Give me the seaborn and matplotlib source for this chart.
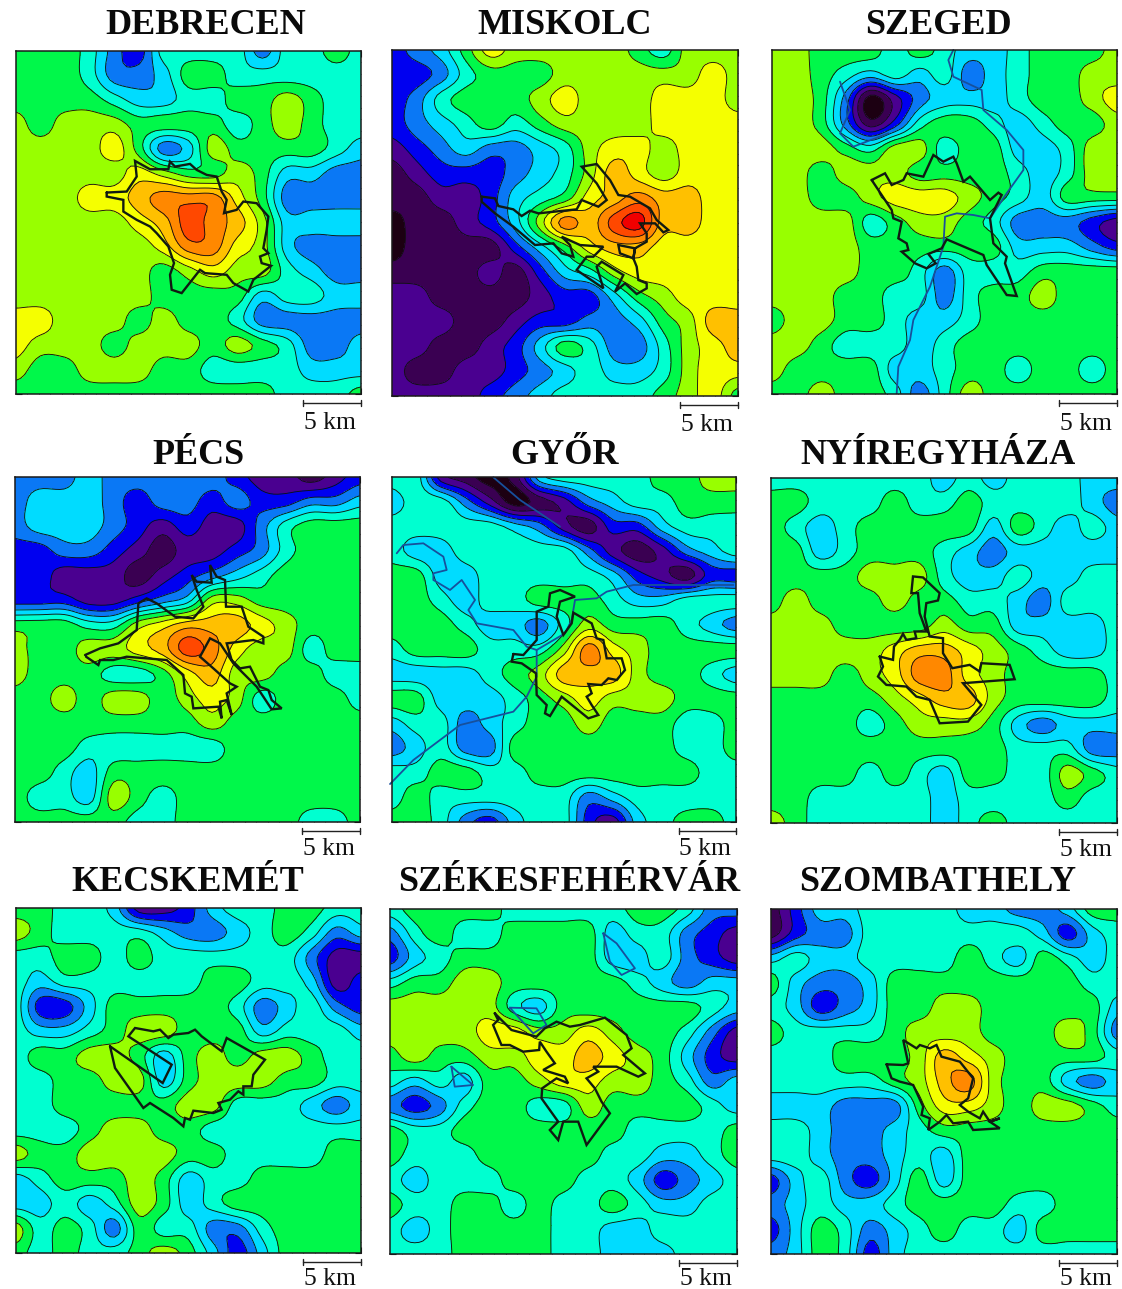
import numpy as np
import matplotlib
matplotlib.use("Agg")
import matplotlib.pyplot as plt
from matplotlib.ticker import MultipleLocator
import seaborn as sns

CITIES = ["DEBRECEN", "MISKOLC", "SZEGED", "PÉCS", "GYŐR", "NYÍREGYHÁZA",
          "KECSKEMÉT", "SZÉKESFEHÉRVÁR", "SZOMBATHELY"]
BAND_COLORS = ["#1c0012", "#3a0052", "#4a0090", "#0000f0", "#0a78f5", "#00dcff", "#00ffd0",
               "#00f84a", "#98ff00", "#f5ff00", "#ffc000", "#ff8800", "#ff4800", "#f00000"]

DEBRECEN = [
 [7,7,7,6,4,3,6,6,6,6,4,6,6,7,6],
 [7,7,7,6,4,4,5,7,7,6,6,6,6,6,6],
 [7,7,7,7,6,5,5,6,6,7,7,8,7,6,6],
 [8,7,8,8,8,7,7,7,7,6,7,8,7,6,6],
 [8,8,8,8,9,7,4,5,8,7,7,7,7,6,5],
 [8,8,8,8,8,9,8,7,7,8,7,5,5,4,4],
 [8,8,8,9,9,10,11,11,11,9,7,4,4,4,4],
 [8,8,8,8,8,9,10,12,11,10,8,5,5,5,5],
 [8,8,8,8,8,8,9,11,11,9,8,5,4,4,4],
 [8,8,8,8,8,8,7,8,9,8,8,6,5,4,4],
 [8,8,8,8,8,8,7,7,7,7,5,6,6,5,5],
 [9,9,8,8,8,7,8,7,7,6,4,4,4,4,4],
 [9,8,8,8,7,8,8,8,7,8,7,6,4,4,5],
 [8,7,7,8,8,8,7,7,6,6,6,6,5,5,5],
 [7,7,7,7,7,7,7,7,7,7,7,6,6,6,7],
]
MISKOLC = [
 [3,4,5,7,9,8,8,8,8,8,7,6,8,8,8],
 [3,3,4,6,7,7,7,8,8,8,8,8,8,9,8],
 [3,4,6,7,7,7,8,9,8,8,8,9,9,9,8],
 [3,4,5,6,7,6,7,8,8,8,8,9,9,9,9],
 [2,3,4,5,4,4,5,6,8,9,9,8,9,9,9],
 [1,2,3,3,3,4,5,6,8,10,9,8,9,9,9],
 [1,1,2,2,3,5,6,7,9,10,11,10,10,9,9],
 [0,1,1,2,3,5,8,11,10,12,13,10,10,9,9],
 [0,1,1,1,1,3,5,7,9,10,10,9,9,9,9],
 [1,1,1,1,2,1,3,5,6,8,9,9,9,9,9],
 [2,2,1,1,1,1,2,3,3,5,7,8,9,9,9],
 [2,2,2,1,1,2,3,3,4,4,5,7,8,10,10],
 [2,2,1,1,2,3,5,7,6,4,4,6,8,9,10],
 [2,1,1,2,2,3,4,5,6,5,5,6,8,9,9],
 [2,2,2,2,3,4,5,6,6,6,6,7,8,9,7],
]
SZEGED = [
 [8,8,7,7,7,6,7,6,5,5,6,7,7,7,8],
 [8,8,7,6,5,6,5,6,4,5,6,7,7,8,8],
 [8,8,7,4,0,2,4,5,5,5,6,7,7,8,9],
 [8,8,7,4,1,3,6,7,7,6,5,6,7,7,8],
 [8,8,8,7,6,8,8,6,7,7,5,5,6,8,8],
 [8,8,7,8,8,8,7,7,7,7,6,5,6,8,8],
 [8,8,7,7,8,9,9,9,8,7,6,5,7,7,7],
 [8,8,8,8,6,7,8,8,7,6,4,4,4,3,2],
 [8,8,8,8,7,7,7,7,7,7,5,5,5,4,3],
 [8,8,8,8,7,7,6,4,6,6,6,7,7,7,7],
 [8,8,8,7,7,6,6,4,6,7,7,8,7,7,7],
 [7,8,8,7,7,6,5,5,6,7,7,7,7,7,7],
 [8,8,7,6,6,6,5,6,7,7,7,7,7,7,7],
 [8,7,7,7,7,5,5,6,7,7,6,7,7,6,7],
 [7,7,8,7,7,6,4,6,8,7,7,7,7,7,7],
]
PECS = [
 [4,4,4,5,4,4,4,4,4,3,2,2,1,2,3],
 [4,5,5,5,4,3,4,4,3,4,3,3,4,4,5],
 [4,5,5,5,4,3,2,3,2,2,4,6,7,7,7],
 [3,3,4,4,3,2,1,2,2,3,4,6,7,7,7],
 [3,3,2,2,2,1,2,3,4,5,6,7,7,7,7],
 [3,3,3,2,2,3,4,5,8,8,7,7,7,7,7],
 [7,7,7,6,6,8,9,10,10,10,9,8,7,7,7],
 [8,7,7,8,8,9,10,12,11,9,8,8,6,7,7],
 [8,7,7,7,6,6,7,9,10,8,8,7,7,6,6],
 [7,7,8,7,8,8,7,8,9,8,6,7,7,7,6],
 [7,7,7,7,7,7,7,7,8,7,7,7,7,7,7],
 [7,7,7,6,6,6,6,6,6,7,7,7,7,7,7],
 [7,7,6,5,7,7,7,7,7,7,7,7,7,7,7],
 [7,6,6,5,8,7,6,7,7,7,7,7,7,7,7],
 [7,7,7,7,7,6,6,7,7,7,7,7,6,6,7],
]
GYOR = [
 [6,6,2,1,0,1,5,6,6,6,6,7,7,8,8],
 [5,6,6,4,2,0,1,2,4,5,6,6,7,7,7],
 [6,6,6,6,6,5,4,2,1,3,3,5,6,6,6],
 [6,5,5,6,6,6,6,6,4,2,1,2,4,5,6],
 [7,7,5,5,6,6,6,6,6,5,3,2,1,3,3],
 [7,7,6,5,6,6,7,7,7,6,5,5,6,6,6],
 [7,7,7,6,5,5,4,6,8,7,7,7,6,5,4],
 [6,7,7,7,6,6,6,8,11,9,8,7,7,7,7],
 [5,5,5,5,6,7,8,10,10,10,8,7,7,6,5],
 [7,7,5,5,5,6,7,8,9,8,8,8,7,7,7],
 [5,6,6,4,5,6,7,7,8,7,7,7,6,6,7],
 [4,5,6,4,4,7,7,7,7,7,7,7,6,6,7],
 [6,6,7,7,6,6,7,7,7,7,7,7,7,6,6],
 [6,7,6,6,6,6,6,6,4,5,6,6,6,6,6],
 [7,7,6,4,3,5,6,6,3,2,5,6,7,7,6],
]
NYIREGYHAZA = [
 [6,6,6,6,6,6,6,5,6,5,6,6,6,5,5],
 [7,7,6,6,6,7,6,6,7,6,6,6,6,5,4],
 [7,6,5,6,7,7,7,7,7,5,7,6,5,6,5],
 [7,7,5,6,7,7,7,6,5,4,5,5,5,5,5],
 [7,7,7,7,8,8,8,6,5,5,6,5,5,6,6],
 [7,8,7,7,7,8,7,7,6,6,5,4,6,6,6],
 [8,8,8,7,7,7,7,8,7,7,5,5,5,5,6],
 [8,8,8,8,8,9,10,10,9,8,7,6,5,5,6],
 [8,8,8,7,8,9,11,11,9,8,7,7,7,7,6],
 [7,7,7,7,7,8,9,10,10,8,7,7,7,7,6],
 [7,7,7,7,6,7,8,8,8,7,5,4,5,5,5],
 [7,7,7,7,7,7,7,7,7,7,6,6,6,4,4],
 [7,7,7,7,6,7,6,5,7,7,6,6,8,7,6],
 [7,7,6,6,6,6,6,5,6,6,6,6,7,6,6],
 [8,7,6,6,6,6,6,5,6,7,6,6,6,6,6],
]
KECSKEMET = [
 [7,7,6,6,5,2,2,3,5,6,6,7,7,6,6],
 [8,7,6,6,6,6,5,4,4,5,6,7,6,4,5],
 [6,6,7,7,6,7,6,6,6,6,6,6,4,2,2],
 [6,5,6,6,6,6,6,6,7,7,6,6,5,2,3],
 [6,3,3,5,7,7,7,7,7,6,4,5,6,4,3],
 [6,5,5,6,7,8,8,7,7,7,5,6,6,6,5],
 [6,7,7,8,8,7,5,7,8,7,8,8,7,6,6],
 [6,6,7,7,8,8,5,7,8,8,8,7,7,6,6],
 [6,6,7,7,7,7,7,8,8,6,6,6,5,4,5],
 [6,6,6,7,8,8,7,7,6,6,6,6,6,6,6],
 [8,7,7,8,8,8,8,7,7,6,6,6,6,7,7],
 [5,6,7,7,7,8,7,5,6,6,7,7,7,7,7],
 [5,5,6,5,6,8,7,5,6,7,7,7,7,7,7],
 [8,6,7,6,4,7,6,6,4,4,6,7,7,7,7],
 [7,6,7,6,6,7,8,7,5,3,5,7,7,7,7],
]
SZEKESFEHERVAR = [
 [6,7,7,7,7,6,6,6,6,6,7,7,6,4,4],
 [4,6,7,6,6,7,7,7,7,5,6,6,4,3,2],
 [3,5,6,7,7,7,7,7,7,5,5,6,4,3,2],
 [6,7,7,8,8,7,7,7,7,7,6,5,4,5,5],
 [8,8,8,8,8,6,5,7,7,7,7,7,7,6,5],
 [8,8,8,8,9,9,8,8,9,8,7,7,6,4,2],
 [7,8,7,7,8,8,9,9,10,9,8,7,5,3,2],
 [6,5,6,5,7,7,8,9,9,8,8,7,6,4,5],
 [4,3,4,6,7,7,6,6,8,7,7,7,7,6,5],
 [7,6,6,7,7,7,7,7,7,7,6,6,6,6,7],
 [7,6,6,6,7,7,7,7,7,6,6,5,5,6,7],
 [6,5,6,6,6,7,7,7,6,6,5,3,4,5,6],
 [7,6,6,7,7,6,7,6,6,7,6,5,5,6,6],
 [6,5,6,7,7,7,7,6,6,5,5,6,6,6,6],
 [6,6,6,7,7,7,7,6,6,5,5,5,6,6,6],
]
SZOMBATHELY = [
 [1,3,5,5,6,6,6,6,5,5,4,4,5,7,7],
 [1,3,4,4,6,6,6,6,6,6,6,5,3,5,6],
 [5,6,5,5,6,6,6,6,7,6,5,7,6,5,6],
 [7,5,4,4,5,7,7,7,7,7,7,7,7,6,6],
 [6,5,3,4,5,7,7,8,8,7,7,7,7,7,5],
 [7,6,6,6,6,7,8,8,8,7,7,7,8,7,4],
 [6,6,6,7,7,7,8,10,9,8,7,7,7,7,6],
 [6,6,6,6,6,7,8,10,11,8,7,7,5,4,5],
 [5,5,5,4,4,4,7,9,9,8,7,8,8,7,6],
 [6,6,5,4,4,5,6,7,7,7,7,7,7,7,7],
 [6,6,5,4,4,5,6,5,7,7,7,7,7,7,7],
 [3,5,6,4,3,5,7,5,7,7,7,7,7,7,7],
 [4,5,6,5,5,6,7,7,7,7,6,6,7,7,7],
 [3,5,7,6,4,5,6,7,6,6,5,7,7,7,7],
 [4,5,7,6,3,5,6,6,6,6,6,6,6,6,6],
]
GRIDS = [DEBRECEN, MISKOLC, SZEGED, PECS, GYOR, NYIREGYHAZA, KECSKEMET, SZEKESFEHERVAR, SZOMBATHELY]

# City limits and rivers, as read on the picture (in thirds of a pixel from each map's own crop)
B_DEBRECEN = [(320,578),(380,575),(410,530),(405,483),(450,508),(505,508),(510,485),(525,500),(570,492),(590,510),(620,525),(650,530),(665,575),(680,600),(672,640),(710,630),(730,605),(770,610),(805,650),(800,690),(790,745),(805,760),(780,770),(785,790),(813,798),(760,840),(745,875),(700,850),(680,825),(615,820),(600,810),(545,880),(515,870),(510,825),(522,790),(505,740),(470,700),(450,680),(410,660),(370,635),(370,600),(320,590),(320,578)]
B_MISKOLC = [(305,590),(345,595),(355,618),(400,628),(425,648),(450,632),(475,640),(590,628),(605,600),(655,620),(680,600),(650,550),(605,500),(650,492),(690,540),(715,585),(750,590),(810,625),(830,660),(865,690),(850,697),(825,670),(780,670),(800,700),(800,725),(765,745),(760,775),(720,760),(715,735),(765,745),(760,775),(770,800),(775,840),(800,850),(800,865),(770,882),(735,850),(705,875),(730,825),(665,785),(650,800),(670,865),(590,810),(620,770),(640,770),(670,740),(600,735),(545,710),(570,735),(580,770),(545,760),(520,730),(465,735),(400,680),(345,640),(305,605),(305,590)]
B_SZEGED = [(335,540),(375,520),(395,555),(430,540),(440,520),(490,530),(520,465),(550,485),(580,470),(590,490),(610,545),(630,530),(690,600),(715,578),(725,585),(690,655),(700,730),(740,770),(735,790),(770,888),(740,885),(680,795),(670,765),(560,718),(545,745),(505,762),(527,790),(500,805),(465,790),(425,755),(445,750),(440,730),(415,715),(425,665),(400,655),(395,630),(335,540)]
B_PECS = [(255,675),(300,655),(355,640),(410,600),(415,520),(440,505),(470,520),(525,560),(580,565),(610,530),(590,480),(575,435),(590,455),(635,458),(630,405),(650,440),(675,450),(678,530),(725,530),(745,590),(790,620),(790,640),(760,630),(680,640),(695,690),(720,715),(750,710),(780,770),(805,780),(815,810),(845,835),(815,838),(790,800),(770,770),(700,700),(660,640),(630,625),(600,680),(640,715),(690,760),(710,770),(680,790),(695,855),(680,810),(660,815),(665,865),(655,830),(580,835),(575,800),(555,790),(550,735),(500,690),(380,680),(340,690),(300,690),(295,705),(258,680)]
B_GYOR = [(400,672),(430,675),(470,630),(470,545),(505,530),(510,490),(540,480),(585,500),(540,515),(530,560),(550,615),(575,580),(580,548),(635,580),(650,625),(670,630),(680,685),(725,685),(735,720),(710,750),(685,745),(665,765),(625,762),(635,790),(620,800),(635,825),(655,855),(625,865),(545,800),(510,858),(495,850),(500,825),(470,795),(468,730),(425,700),(395,695),(400,672)]
B_NYIREGYHAZA = [(360,680),(400,690),(403,650),(420,630),(430,612),(440,630),(470,625),(465,605),(500,605),(480,550),(475,490),(455,490),(460,440),(490,443),(540,490),(535,512),(500,520),(495,560),(510,620),(550,625),(550,670),(578,715),(630,705),(660,725),(665,700),(750,705),(765,748),(610,760),(665,825),(625,875),(540,880),(510,810),(470,800),(440,770),(380,765),(355,740),(370,710),(360,680)]
B_KECSKEMET = [(330,575),(345,640),(430,760),(450,745),(520,790),(550,815),(555,790),(570,795),(580,768),(640,775),(665,765),(655,745),(690,735),(715,710),(730,720),(730,695),(755,695),(760,660),(795,615),(680,550),(665,590),(605,545),(585,525),(565,535),(520,540),(505,550),(480,525),(460,530),(405,520),(385,545),(515,630),(488,685),(330,575)]
B_SZEKESFEHERVAR = [(345,475),(365,495),(395,525),(470,545),(495,520),(530,500),(570,515),(600,510),(675,488),(740,540),(755,580),(730,600),(795,655),(775,665),(710,635),(640,635),(655,650),(620,670),(645,700),(665,740),(690,775),(620,870),(595,800),(550,800),(535,855),(510,825),(535,800),(485,730),(487,700),(530,670),(565,685),(555,665),(490,645),(525,625),(500,590),(480,560),(478,585),(430,590),(390,570),(365,570),(340,510),(355,495),(345,475)]
B_SZOMBATHELY = [(380,628),(430,630),(445,625),(430,555),(470,580),(480,570),(510,580),(530,570),(545,605),(600,620),(640,670),(625,730),(600,750),(625,770),(660,790),(670,770),(690,800),(720,790),(690,800),(720,820),(640,825),(625,800),(580,805),(560,780),(540,800),(505,825),(510,790),(485,780),(490,755),(460,690),(420,680),(395,670),(380,628)]
BOUNDARIES = [B_DEBRECEN, B_MISKOLC, B_SZEGED, B_PECS, B_GYOR, B_NYIREGYHAZA, B_KECSKEMET, B_SZEKESFEHERVAR, B_SZOMBATHELY]

R_SZEGED = [[(410,1180),(415,1100),(450,1020),(460,960),(510,860),(550,740),(555,650),(590,640),(640,645),(690,655),(740,580),(790,510),(790,450),(740,390),(670,330),(665,270),(580,230),(565,180),(580,150)],
            [(240,245),(270,330),(240,400),(280,440),(385,400)]]
R_GYOR = [[(30,1062),(100,990),(240,885),(400,845),(440,800),(470,740),(470,660),(440,650),(400,600),(290,580),(265,540),(285,510),(245,450),(210,480),(160,450),(160,430),(200,420),(190,380),(130,340),(70,345),(50,370)],
          [(470,660),(555,610),(575,570),(585,510),(650,505),(680,485),(760,465),(1060,465)],
          [(340,142),(420,210),(540,290)]]
R_SZEKES = [[(390,458),(470,460),(500,510),(460,535),(390,458)],
            [(670,235),(710,265),(765,340),(725,360),(690,320),(670,235)],
            [(215,635),(280,690),(225,695),(215,635)]]
RIVERS = [[], [], R_SZEGED, [], R_GYOR, [], [], R_SZEKES, []]

# Crop position of each map frame: left edge, top edge, width, height (crop units)
CROP_FRAMES = [(47,152,1036,1031),(36,150,1037,1037),(36,150,1034,1032),
               (44,140,1036,1035),(35,142,1033,1033),(34,145,1038,1033),
               (47,160,1036,1035),(31,162,1039,1035),(33,162,1039,1035)]
# Map frames on the page in pixels: left, top, right, bottom
PAGE_FRAMES = [(15.7,50.7,361,394),(392,50,737.7,395.7),(772,50,1116.7,394),
               (14.7,476.7,360,821.7),(391.7,477.3,736,821.7),(771,478,1117,822.7),
               (15.7,908,361,1253),(390,909,736.7,1254),(771,909,1117,1254)]
TITLE_X = [206, 565, 938, 198, 564, 938, 188, 569, 938]
TITLE_BASE = [34, 34, 34, 464, 464, 464, 891, 891, 891]
SCALE_TEXT_DROP = [3.1, 3.1, 3.1, 2.9, 2.9, 2.9, 2.75, 2.7, 2.7]

W, H = 1122, 1289
KM = 30
FINE = 6
sns.set_theme(style="white")
plt.rcParams["font.family"] = ["Liberation Serif", "DejaVu Serif"]
palette = sns.color_palette(BAND_COLORS)
levels = np.arange(len(BAND_COLORS) + 1) - 0.5

fig = plt.figure(figsize=(W / 100, H / 100), dpi=100, facecolor="white")

def to_km(points, frame):
    pts = np.array(points, dtype=float)
    return (pts[:, 0] - frame[0]) / frame[2] * KM, (pts[:, 1] - frame[1]) / frame[3] * KM

def rounded(z):
    """Catmull-Rom rendering of the gridded readings so the contours curve as in the original."""
    def along(a):
        n = a.shape[0]
        pad = np.concatenate([a[:1], a, a[-1:]], axis=0)
        pos = np.linspace(0, n - 1, (n - 1) * FINE + 1)
        k = np.minimum(pos.astype(int), n - 2)
        t = (pos - k)[:, None]
        p0, p1, p2, p3 = pad[k], pad[k + 1], pad[k + 2], pad[k + 3]
        return 0.5 * (2 * p1 + (p2 - p0) * t + (2 * p0 - 5 * p1 + 4 * p2 - p3) * t ** 2
                      + (3 * p1 - p0 - 3 * p2 + p3) * t ** 3)
    return along(along(z).T).T

for i, name in enumerate(CITIES):
    l, t, r, b = PAGE_FRAMES[i]
    ax = fig.add_axes([l / W, 1 - b / H, (r - l) / W, (b - t) / H])
    z = rounded(np.array(GRIDS[i], dtype=float))
    axis = np.linspace(0, KM, z.shape[0])
    ax.contourf(axis, axis, z, levels=levels, colors=palette, extend="both")
    ax.contour(axis, axis, z, levels=levels[1:-1], colors="#101010", linewidths=0.65)
    for river in RIVERS[i]:
        rx, ry = to_km(river, CROP_FRAMES[i])
        ax.plot(rx, ry, color="#17509c", lw=1.3, clip_on=False)
    bx, by = to_km(BOUNDARIES[i], CROP_FRAMES[i])
    ax.plot(bx, by, color="#101a12", lw=1.7, solid_joinstyle="miter")
    ax.set_xlim(0, KM)
    ax.set_ylim(KM, 0)
    ax.xaxis.set_major_locator(MultipleLocator(5))
    ax.yaxis.set_major_locator(MultipleLocator(5))
    ax.xaxis.set_minor_locator(MultipleLocator(1))
    ax.yaxis.set_minor_locator(MultipleLocator(1))
    ax.tick_params(which="major", direction="in", length=4, width=0.8, top=True, right=True, bottom=True, left=True,
                   labelbottom=False, labelleft=False, color="#111111")
    ax.tick_params(which="minor", direction="in", length=2, width=0.5, top=True, right=True, bottom=True, left=True,
                   color="#111111")
    for s in ax.spines.values():
        s.set_linewidth(1.1)
        s.set_color("#1a1a1a")
        s.set_visible(True)
    # 5 km scale bar below the map
    ax.plot([KM - 5, KM], [KM + 0.8, KM + 0.8], color="#222222", lw=1.0, clip_on=False)
    for end in (KM - 5, KM):
        ax.plot([end, end], [KM + 0.55, KM + 1.05], color="#222222", lw=1.0, clip_on=False)
    ax.text(KM - 2.7, KM + SCALE_TEXT_DROP[i], "5 km", ha="center", va="baseline", fontsize=18.4, color="#111111")
    fig.text(TITLE_X[i] / W, 1 - TITLE_BASE[i] / H, name, ha="center", va="baseline",
             fontsize=26, fontweight="bold", color="#0a0a0a")

fig.savefig("out.png", dpi=100, facecolor="white")
